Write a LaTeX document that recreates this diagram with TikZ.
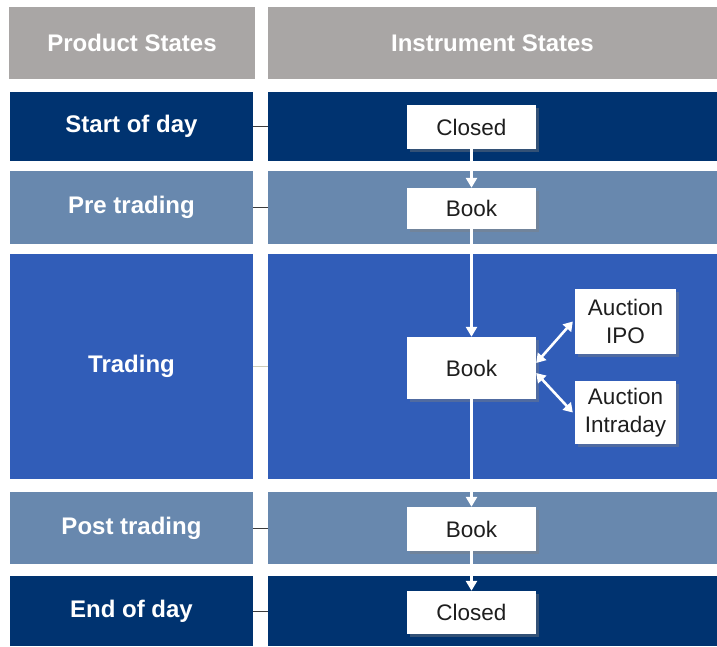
\documentclass[tikz,border=0pt]{standalone}
\usepackage{fontspec}
\setmainfont{Liberation Sans}
\usetikzlibrary{arrows.meta,shadows}

\definecolor{headgray}{RGB}{169,166,165}
\definecolor{navy}{RGB}{0,51,112}
\definecolor{steel}{RGB}{104,136,174}
\definecolor{royal}{RGB}{49,93,184}
\definecolor{tickgray}{RGB}{60,60,60}
\definecolor{ticklight}{RGB}{205,205,185}
\definecolor{boxtext}{RGB}{30,30,30}

\tikzset{
  band/.style={fill=#1, inner sep=0pt, text=white, font=\fontsize{24}{28}\selectfont\bfseries},
  statebox/.style={fill=white, inner sep=0pt, text=boxtext, align=center,
    font=\fontsize{22.5}{28}\selectfont,
    drop shadow={shadow xshift=3pt, shadow yshift=-3pt, opacity=0.4}},
  flow/.style={white, line width=2.6pt, -{Triangle[width=11pt,length=10pt]}},
  twoway/.style={white, line width=2.6pt, {Triangle[width=11pt,length=9pt]}-{Triangle[width=11pt,length=9pt]}},
  tick/.style={tickgray, line width=1pt}
}

\begin{document}
\begin{tikzpicture}[x=1pt,y=-1pt]
\useasboundingbox (0,0) rectangle (717,646);
\fill[white] (0,0) rectangle (717,646);

% header
\node[band=headgray, minimum width=246pt, minimum height=72pt] (phead) at (132,43) {Product States};
\node[band=headgray, minimum width=449pt, minimum height=72pt] (ihead) at (492.5,43) {Instrument States};

% rows: name / centre y / height / colour / label
\foreach \n/\y/\h/\c/\lab in {sod/126.5/69/navy/Start of day,
                              pre/207.5/73/steel/Pre trading,
                              trd/366.5/225/royal/Trading,
                              post/528/72/steel/Post trading,
                              eod/611/70/navy/End of day}{
  \node[band=\c, minimum width=243pt, minimum height=\h pt] (\n L) at (131.5,\y) {\lab};
  \node[band=\c, minimum width=449pt, minimum height=\h pt] (\n R) at (492.5,\y) {};
}

% ticks across the gap
\foreach \n in {sod,pre,post,eod} \draw[tick] (\n L.east) -- (\n R.west);
\draw[ticklight, line width=1pt] (trdL.east) -- (trdR.west);

% instrument states
\node[statebox, minimum width=129pt, minimum height=44pt] (closedA) at (471.5,127) {Closed};
\node[statebox, minimum width=129pt, minimum height=41pt] (bookA) at (471.5,208.5) {Book};
\node[statebox, minimum width=129pt, minimum height=62pt] (bookB) at (471.5,368) {Book};
\node[statebox, minimum width=101pt, minimum height=65pt] (ipo) at (625.5,321.5) {Auction\\IPO};
\node[statebox, minimum width=101pt, minimum height=63pt] (intra) at (625.5,412.5) {Auction\\Intraday};
\node[statebox, minimum width=129pt, minimum height=44pt] (bookC) at (471.5,529) {Book};
\node[statebox, minimum width=129pt, minimum height=43pt] (closedB) at (471.5,612.5) {Closed};

\draw[flow] (closedA) -- (bookA);
\draw[flow] (bookA) -- (bookB);
\draw[flow] (bookB) -- (bookC);
\draw[flow] (bookC) -- (closedB);
\draw[twoway] ([yshift=5pt]bookB.east) -- ([xshift=-2pt]ipo.west);
\draw[twoway] ([yshift=-5pt]bookB.east) -- ([xshift=-2pt]intra.west);
\end{tikzpicture}
\end{document}
